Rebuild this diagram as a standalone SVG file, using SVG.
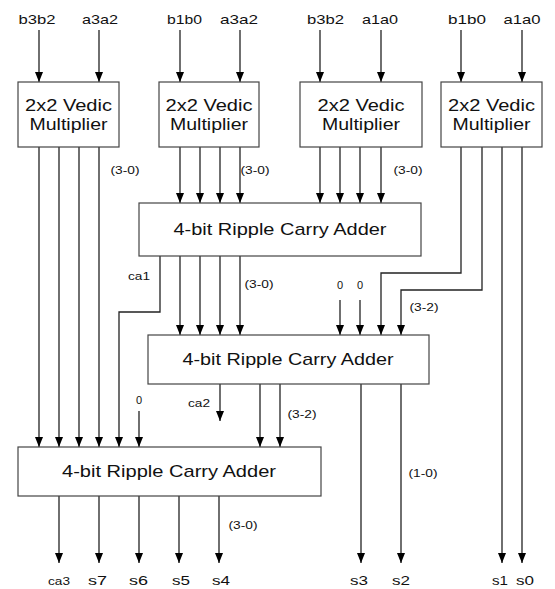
<svg xmlns="http://www.w3.org/2000/svg" width="555" height="589" viewBox="0 0 555 589">
<style>
.box{fill:#fff;stroke:#444;stroke-width:1.2}
.w{fill:none;stroke:#222;stroke-width:1.3}
.t{font-family:"Liberation Sans",Arial,sans-serif;fill:#111;text-anchor:middle}
.bt{font-size:17px}
.lb{font-size:13px}
.sm{font-size:11px}
.xs{font-size:10.5px}
</style>
<defs>
<marker id="ah" viewBox="0 0 10 8" markerWidth="10" markerHeight="8" refX="10" refY="4" orient="auto" markerUnits="userSpaceOnUse">
<path d="M0,0 L10,4 L0,8 z" fill="#000"/>
</marker>
</defs>
<rect width="555" height="589" fill="#fff"/>

<g id="connectors" class="w" marker-end="url(#ah)">
<!-- inputs -->
<line x1="39" y1="30" x2="39" y2="82"/>
<line x1="99" y1="30" x2="99" y2="82"/>
<line x1="180" y1="30" x2="180" y2="82"/>
<line x1="240" y1="30" x2="240" y2="82"/>
<line x1="320" y1="30" x2="320" y2="82"/>
<line x1="381" y1="30" x2="381" y2="82"/>
<line x1="461" y1="30" x2="461" y2="82"/>
<line x1="522" y1="30" x2="522" y2="82"/>
<!-- box1 to adder3 -->
<line x1="39" y1="147" x2="39" y2="447"/>
<line x1="59" y1="147" x2="59" y2="447"/>
<line x1="79" y1="147" x2="79" y2="447"/>
<line x1="99" y1="147" x2="99" y2="447"/>
<!-- box2 to adder1 -->
<line x1="180" y1="147" x2="180" y2="203"/>
<line x1="200" y1="147" x2="200" y2="203"/>
<line x1="220" y1="147" x2="220" y2="203"/>
<line x1="240" y1="147" x2="240" y2="203"/>
<!-- box3 to adder1 -->
<line x1="320" y1="147" x2="320" y2="203"/>
<line x1="340" y1="147" x2="340" y2="203"/>
<line x1="360" y1="147" x2="360" y2="203"/>
<line x1="381" y1="147" x2="381" y2="203"/>
<!-- box4 -->
<polyline points="461,147 461,273 381,273 381,335"/>
<polyline points="482,147 482,290 401,290 401,335"/>
<line x1="502" y1="147" x2="502" y2="563"/>
<line x1="522" y1="147" x2="522" y2="563"/>
<!-- adder1 to adder2 -->
<line x1="180" y1="256" x2="180" y2="335"/>
<line x1="200" y1="256" x2="200" y2="335"/>
<line x1="220" y1="256" x2="220" y2="335"/>
<line x1="240" y1="256" x2="240" y2="335"/>
<polyline points="160,256 160,312 119,312 119,447"/>
<!-- zeros -->
<line x1="340" y1="300" x2="340" y2="335"/>
<line x1="360" y1="300" x2="360" y2="335"/>
<line x1="139" y1="411" x2="139" y2="447"/>
<!-- adder2 outputs -->
<line x1="220" y1="384" x2="220" y2="421"/>
<line x1="260" y1="384" x2="260" y2="447"/>
<line x1="280" y1="384" x2="280" y2="447"/>
<line x1="361" y1="384" x2="361" y2="563"/>
<line x1="401" y1="384" x2="401" y2="563"/>
<!-- adder3 outputs -->
<line x1="59" y1="496" x2="59" y2="563"/>
<line x1="99" y1="496" x2="99" y2="563"/>
<line x1="139" y1="496" x2="139" y2="563"/>
<line x1="179" y1="496" x2="179" y2="563"/>
<line x1="219" y1="496" x2="219" y2="563"/>
</g>

<g id="mult1">
<rect class="box" x="18" y="82" width="101" height="65"/>
<text class="t bt" x="68.5" y="111" textLength="87" lengthAdjust="spacingAndGlyphs">2x2 Vedic</text>
<text class="t bt" x="68.5" y="130" textLength="78" lengthAdjust="spacingAndGlyphs">Multiplier</text>
</g>
<g id="mult2">
<rect class="box" x="159" y="82" width="100" height="65"/>
<text class="t bt" x="209" y="111" textLength="87" lengthAdjust="spacingAndGlyphs">2x2 Vedic</text>
<text class="t bt" x="209" y="130" textLength="78" lengthAdjust="spacingAndGlyphs">Multiplier</text>
</g>
<g id="mult3">
<rect class="box" x="300" y="82" width="122" height="65"/>
<text class="t bt" x="361" y="111" textLength="87" lengthAdjust="spacingAndGlyphs">2x2 Vedic</text>
<text class="t bt" x="361" y="130" textLength="78" lengthAdjust="spacingAndGlyphs">Multiplier</text>
</g>
<g id="mult4">
<rect class="box" x="441" y="82" width="101" height="65"/>
<text class="t bt" x="491.5" y="111" textLength="87" lengthAdjust="spacingAndGlyphs">2x2 Vedic</text>
<text class="t bt" x="491.5" y="130" textLength="78" lengthAdjust="spacingAndGlyphs">Multiplier</text>
</g>
<g id="adder1">
<rect class="box" x="139" y="203" width="282" height="53"/>
<text class="t bt" x="280" y="235" textLength="213" lengthAdjust="spacingAndGlyphs">4-bit Ripple Carry Adder</text>
</g>
<g id="adder2">
<rect class="box" x="148" y="335" width="281" height="49"/>
<text class="t bt" x="288" y="365" textLength="211" lengthAdjust="spacingAndGlyphs">4-bit Ripple Carry Adder</text>
</g>
<g id="adder3">
<rect class="box" x="18" y="447" width="303" height="49"/>
<text class="t bt" x="169" y="477" textLength="214" lengthAdjust="spacingAndGlyphs">4-bit Ripple Carry Adder</text>
</g>

<g id="labels">
<text class="t lb" x="37" y="24" textLength="37" lengthAdjust="spacingAndGlyphs">b3b2</text>
<text class="t lb" x="100" y="24" textLength="36" lengthAdjust="spacingAndGlyphs">a3a2</text>
<text class="t lb" x="184.5" y="24" textLength="35" lengthAdjust="spacingAndGlyphs">b1b0</text>
<text class="t lb" x="239" y="24" textLength="38" lengthAdjust="spacingAndGlyphs">a3a2</text>
<text class="t lb" x="325.5" y="24" textLength="37" lengthAdjust="spacingAndGlyphs">b3b2</text>
<text class="t lb" x="380" y="24" textLength="36" lengthAdjust="spacingAndGlyphs">a1a0</text>
<text class="t lb" x="467" y="24" textLength="38" lengthAdjust="spacingAndGlyphs">b1b0</text>
<text class="t lb" x="522" y="24" textLength="37" lengthAdjust="spacingAndGlyphs">a1a0</text>

<text class="t xs" x="125" y="174" textLength="29" lengthAdjust="spacingAndGlyphs">(3-0)</text>
<text class="t xs" x="255" y="174" textLength="29" lengthAdjust="spacingAndGlyphs">(3-0)</text>
<text class="t xs" x="408" y="174" textLength="29" lengthAdjust="spacingAndGlyphs">(3-0)</text>
<text class="t sm" x="139" y="280" textLength="22" lengthAdjust="spacingAndGlyphs">ca1</text>
<text class="t xs" x="259" y="288" textLength="29" lengthAdjust="spacingAndGlyphs">(3-0)</text>
<text class="t sm" x="340" y="289">0</text>
<text class="t sm" x="360" y="289">0</text>
<text class="t xs" x="424" y="311" textLength="29" lengthAdjust="spacingAndGlyphs">(3-2)</text>
<text class="t sm" x="139" y="404">0</text>
<text class="t sm" x="199" y="407" textLength="22" lengthAdjust="spacingAndGlyphs">ca2</text>
<text class="t xs" x="302" y="418" textLength="29" lengthAdjust="spacingAndGlyphs">(3-2)</text>
<text class="t xs" x="423" y="477" textLength="29" lengthAdjust="spacingAndGlyphs">(1-0)</text>
<text class="t xs" x="243" y="529" textLength="29" lengthAdjust="spacingAndGlyphs">(3-0)</text>

<text class="t sm" x="59" y="585" textLength="22" lengthAdjust="spacingAndGlyphs">ca3</text>
<text class="t lb" x="97.5" y="585" textLength="19" lengthAdjust="spacingAndGlyphs">s7</text>
<text class="t lb" x="138.5" y="585" textLength="19" lengthAdjust="spacingAndGlyphs">s6</text>
<text class="t lb" x="181" y="585" textLength="18" lengthAdjust="spacingAndGlyphs">s5</text>
<text class="t lb" x="221" y="585" textLength="18" lengthAdjust="spacingAndGlyphs">s4</text>
<text class="t lb" x="359" y="585" textLength="18" lengthAdjust="spacingAndGlyphs">s3</text>
<text class="t lb" x="401" y="585" textLength="18" lengthAdjust="spacingAndGlyphs">s2</text>
<text class="t lb" x="500" y="585" textLength="16" lengthAdjust="spacingAndGlyphs">s1</text>
<text class="t lb" x="525" y="585" textLength="18" lengthAdjust="spacingAndGlyphs">s0</text>
</g>
</svg>
